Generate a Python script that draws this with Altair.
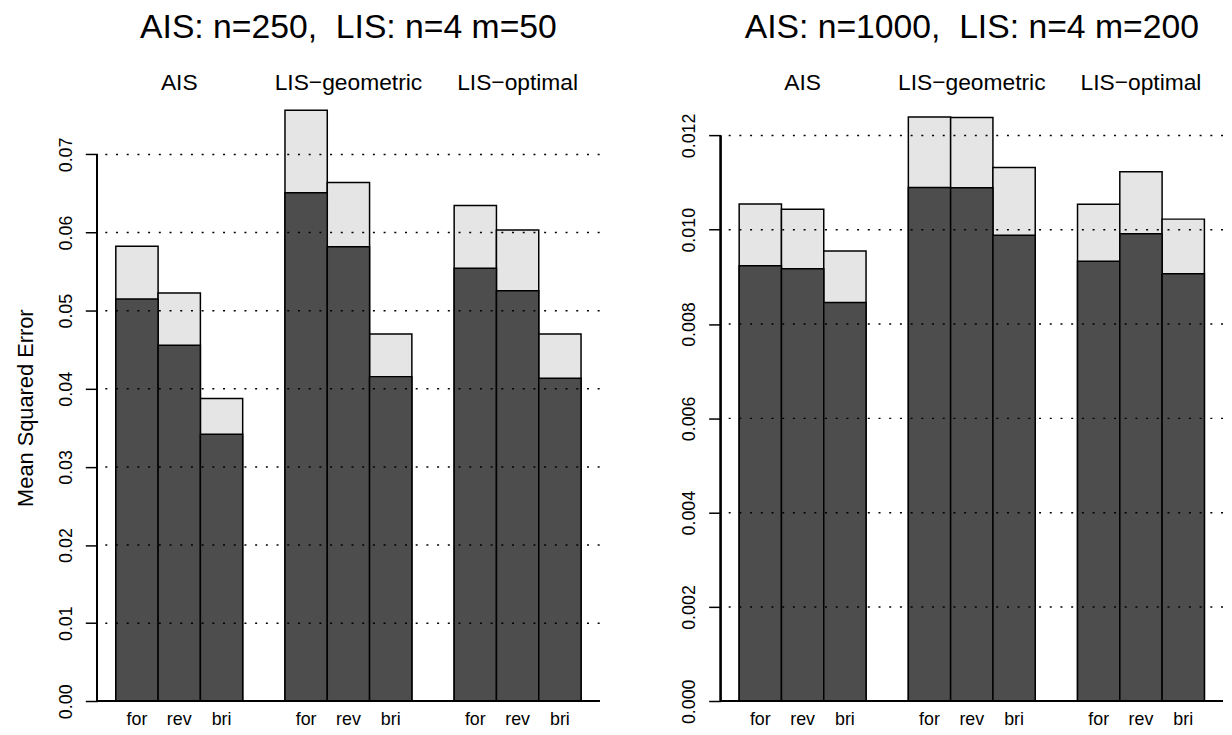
import altair as alt
import pandas as pd

FONT = "Liberation Sans"

methods = ["AIS", "LIS−geometric", "LIS−optimal"]
directions = ["for", "rev", "bri"]

# Left panel: AIS n=250, LIS n=4 m=50  (rows = methods, cols = directions)
left_total = [[0.05825, 0.05225, 0.03877],
              [0.07566, 0.06641, 0.04701],
              [0.06345, 0.06032, 0.04701]]
left_dark = [[0.05149, 0.04558, 0.03417],
             [0.06510, 0.05817, 0.04156],
             [0.05542, 0.05255, 0.04135]]
left_ticks = [0.00, 0.01, 0.02, 0.03, 0.04, 0.05, 0.06, 0.07]

# Right panel: AIS n=1000, LIS n=4 m=200
right_total = [[0.010547, 0.010435, 0.009551],
               [0.012393, 0.012379, 0.011319],
               [0.010540, 0.011228, 0.010225]]
right_dark = [[0.009235, 0.009172, 0.008456],
              [0.010898, 0.010891, 0.009881],
              [0.009333, 0.009916, 0.009067]]
right_ticks = [0.000, 0.002, 0.004, 0.006, 0.008, 0.010, 0.012]

DARK = "#4D4D4D"
LIGHT = "#E5E5E5"


def panel(title, total, dark, ticks, fmt, domain, ytitle):
    rows = []
    for i, m in enumerate(methods):
        for j, d in enumerate(directions):
            rows.append({"method": m, "direction": d,
                         "total": total[i][j], "dark": dark[i][j]})
    df = pd.DataFrame(rows)
    grid_df = pd.DataFrame({"v": ticks[1:]})

    yscale = alt.Scale(domain=domain, nice=False, zero=False)
    x = alt.X("method:N", sort=methods,
              scale=alt.Scale(paddingInner=0.25, paddingOuter=0.11),
              axis=alt.Axis(orient="top", title=None, ticks=False, domain=False,
                            tickSize=0, labelFontSize=23, labelPadding=1,
                            labelBaseline="alphabetic", labelAngle=0,
                            labelColor="black", labelFont=FONT))
    xo = alt.XOffset("direction:N", sort=directions,
                     scale=alt.Scale(paddingInner=0, paddingOuter=0))
    yaxis = alt.Axis(values=ticks, format=fmt, domain=False, grid=False,
                     tickSize=12, tickWidth=1.5, tickColor="black",
                     labelAngle=270, labelAlign="center",
                     labelBaseline="alphabetic", labelPadding=14,
                     labelFontSize=18, labelFlush=False, labelOverlap=False,
                     labelColor="black", labelFont=FONT,
                     titleFontSize=22, titleFontWeight="normal",
                     titleColor="black", titleFont=FONT, titlePadding=20)

    base = alt.Chart(df)
    light = base.mark_bar(fill=LIGHT, stroke="black", strokeWidth=1.5).encode(
        x=x, xOffset=xo,
        y=alt.Y("total:Q", scale=yscale, axis=yaxis, title=ytitle),
        y2=alt.datum(0))
    darkb = base.mark_bar(fill=DARK, stroke="black", strokeWidth=1.5).encode(
        x=x, xOffset=xo,
        y=alt.Y("dark:Q", scale=yscale, title=ytitle),
        y2=alt.datum(0))
    grid = alt.Chart(grid_df).mark_rule(color="black", strokeWidth=1.5,
                                         strokeDash=[2, 8.8]).encode(
        y=alt.Y("v:Q", scale=yscale, title=ytitle))
    zero = alt.Chart(grid_df).mark_rule(color="black", strokeWidth=1.5).encode(
        y=alt.datum(0))
    yline = alt.Chart(grid_df).mark_rule(color="black", strokeWidth=1.5).encode(
        x=alt.value(0), y=alt.datum(ticks[0]), y2=alt.datum(ticks[-1]))
    labels = base.mark_text(fontSize=18, baseline="alphabetic", dy=24,
                            font=FONT, color="black").encode(
        x=x, xOffset=xo, y=alt.datum(0), text="direction:N")

    return alt.layer(light, darkb, grid, zero, yline, labels).properties(
        width=507, height=640,
        title=alt.TitleParams(title, fontSize=34, fontWeight="normal",
                              font=FONT, color="black", anchor="middle",
                              frame="group", baseline="alphabetic", offset=0))


left = panel("AIS: n=250,\u00a0 LIS: n=4 m=50", left_total, left_dark,
             left_ticks, ".2f", [-0.003006, 0.07818], "Mean Squared Error")
right = panel("AIS: n=1000,\u00a0 LIS: n=4 m=200", right_total, right_dark,
              right_ticks, ".3f", [-0.000498, 0.012952], None)

chart = alt.hconcat(left, right, spacing=81).properties(
    padding={"left": 7, "top": 0, "right": 0, "bottom": 0}
).configure(font=FONT).configure_view(stroke=None)

chart.save("out.html", embed_options={"renderer": "svg", "actions": False})
